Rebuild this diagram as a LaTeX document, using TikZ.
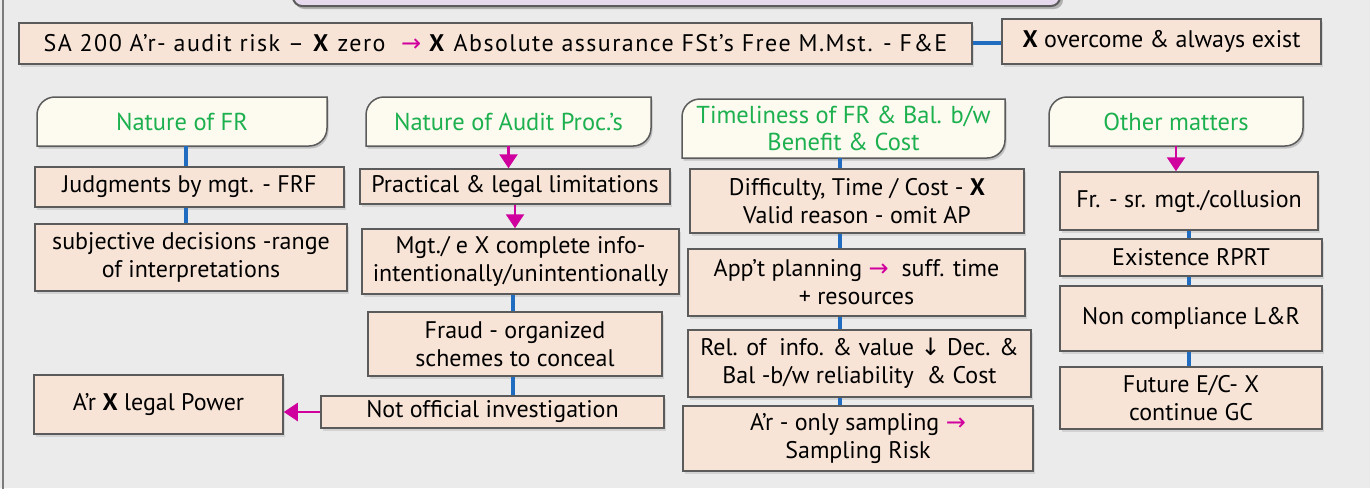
\documentclass[tikz,border=0pt]{standalone}
\usepackage{fontspec}
\setmainfont{PT Sans}
\newfontfamily\symfont{DejaVu Sans}
\usetikzlibrary{arrows.meta,shadows}
\definecolor{bg}{HTML}{EBEBEB}
\definecolor{peach}{HTML}{F8E4D6}
\definecolor{cream}{HTML}{FDFBF0}
\definecolor{edge}{HTML}{5B5B5B}
\definecolor{grn}{HTML}{1DB04F}
\definecolor{mag}{HTML}{D0009E}
\definecolor{blu}{HTML}{1F6CC0}
\definecolor{lav}{HTML}{E6D9EE}
\newcommand{\mra}{{\symfont\textcolor{mag}{→}}}
\newcommand{\mda}{{\symfont ↓}}
\newcommand{\bx}[6]{\node[box, minimum width={(#4-#2)*1pt}, minimum height={(#5-#3)*1pt}] (#1) at ({(#2+#4)/2},{(#3+#5)/2}) {#6};}
\newcommand{\hdpath}[4]{({#1},{#4}) -- ({#1},{#2+18}) .. controls ({#1},{#2+8}) and ({#1+8},{#2}) .. ({#1+18},{#2}) -- ({#3},{#2}) -- ({#3},{#4-18}) .. controls ({#3},{#4-8}) and ({#3-8},{#4}) .. ({#3-18},{#4}) -- cycle}
\newcommand{\hd}[6]{%
  \fill[black, opacity=0.18, xshift=1.5pt, yshift=-2.5pt] \hdpath{#2}{#3}{#4}{#5};
  \draw[hdr] \hdpath{#2}{#3}{#4}{#5};
  \node[hdrtext, minimum width={(#4-#2)*1pt}, minimum height={(#5-#3)*1pt}] (#1) at ({(#2+#4)/2},{(#3+#5)/2}) {#6};}
\tikzset{
  box/.style={draw=edge, line width=1.5pt, fill=peach, align=center, inner sep=0pt,
    font=\fontsize{24}{28}\selectfont,
    drop shadow={shadow xshift=1.5pt, shadow yshift=-2.5pt, opacity=0.22}},
  hdr/.style={draw=edge, line width=1.5pt, fill=cream},
  hdrtext/.style={inner sep=0pt, align=center, text=grn, font=\fontsize{24.5}{27}\selectfont},
  link/.style={draw=blu, line width=3.5pt},
  marrow/.style={draw=mag, line width=2.5pt, -{Triangle[length=14pt,width=18pt]}}
}
\begin{document}
\begin{tikzpicture}[x=1pt,y=-1pt]
\useasboundingbox (0,0) rectangle (1370,488);
\fill[bg] (0,0) rectangle (1370,488);
\begin{scope}
\clip (0,0) rectangle (1370,488);
\fill[black, opacity=0.25, rounded corners=9pt] (295,-30) rectangle (1063,9);
\draw[fill=lav, draw=edge, line width=2pt, rounded corners=9pt] (293,-30) rectangle (1060,6);
\draw[edge!80, line width=1.5pt] (3,-5) -- (3,493);
\end{scope}

% top row
\bx{sa}{19}{23}{972}{64}{\addfontfeature{LetterSpace=6}SA 200 A’r- audit risk – \textbf{X} zero \ \mra\ \textbf{X} Absolute assurance FSt’s Free M.Mst. - F\&E}
\bx{xo}{1002}{19}{1321}{64}{\textbf{X} overcome \& always exist}

% headers
\hd{h1}{37}{97}{327}{146}{Nature of FR}
\hd{h2}{366}{97}{651}{146}{Nature of Audit Proc.’s}
\hd{h3}{682}{99}{1005}{158}{Timeliness of FR \& Bal. b/w\\Benefit \& Cost}
\hd{h4}{1049}{97}{1303}{146}{Other matters}

% column 1
\bx{j}{35}{167}{344}{207}{Judgments by mgt. - FRF}
\bx{s}{35}{224}{347}{291}{subjective decisions -range\\of interpretations}
\bx{ar}{34}{375}{283}{434}{A’r \textbf{X} legal Power}

% column 2
\bx{p}{360}{169}{670}{204}{Practical \& legal limitations}
\bx{m}{362}{229}{679}{294}{Mgt./ e X complete info-\\intentionally/unintentionally}
\bx{fr}{368}{312}{662}{376}{Fraud - organized\\schemes to conceal}
\bx{no}{321}{396}{664}{428}{Not official investigation}

% column 3
\bx{d}{690}{169}{1024}{233}{Difficulty, Time / Cost - \textbf{X}\\Valid reason - omit AP}
\bx{a}{688}{249}{1025}{316}{App’t planning \mra\ \ suff. time\\+ resources}
\bx{r}{688}{330}{1031}{397}{Rel. of \ info. \& value \mda\ Dec. \&\\Bal -b/w reliability \ \& Cost}
\bx{ao}{683}{406}{1033}{471}{A’r - only sampling \mra\\Sampling Risk}

% column 4
\bx{f1}{1060}{172}{1318}{230}{Fr. - sr. mgt./collusion}
\bx{e}{1060}{239}{1322}{276}{Existence RPRT}
\bx{nc}{1060}{286}{1322}{351}{Non compliance L\&R}
\bx{fu}{1060}{367}{1322}{429}{Future E/C- X\\continue GC}

% connectors
\coordinate (c1) at (186,0);
\coordinate (c2) at (513,0);
\coordinate (c3) at (840,0);
\coordinate (c4) at (1189,0);
\draw[link] (sa.east |- 0,43) -- (xo.west |- 0,43);
\draw[link] (c1 |- h1.south) -- (c1 |- j.north);
\draw[link] (c1 |- j.south) -- (c1 |- s.north);
\draw[marrow] (h2.south) -- (h2.south |- p.north);
\draw[marrow] (p.south) -- (p.south |- m.north);
\draw[link] (c2 |- m.south) -- (c2 |- fr.north);
\draw[link] (c2 |- fr.south) -- (c2 |- no.north);
\draw[marrow] (no.west) -- (no.west -| ar.east);
\draw[link] (c3 |- h3.south) -- (c3 |- d.north);
\draw[link] (c3 |- d.south) -- (c3 |- a.north);
\draw[link] (c3 |- a.south) -- (c3 |- r.north);
\draw[link] (c3 |- r.south) -- (c3 |- ao.north);
\draw[marrow] (h4.south) -- (h4.south |- f1.north);
\draw[link] (c4 |- f1.south) -- (c4 |- e.north);
\draw[link] (c4 |- e.south) -- (c4 |- nc.north);
\draw[link] (c4 |- nc.south) -- (c4 |- fu.north);
\end{tikzpicture}
\end{document}
